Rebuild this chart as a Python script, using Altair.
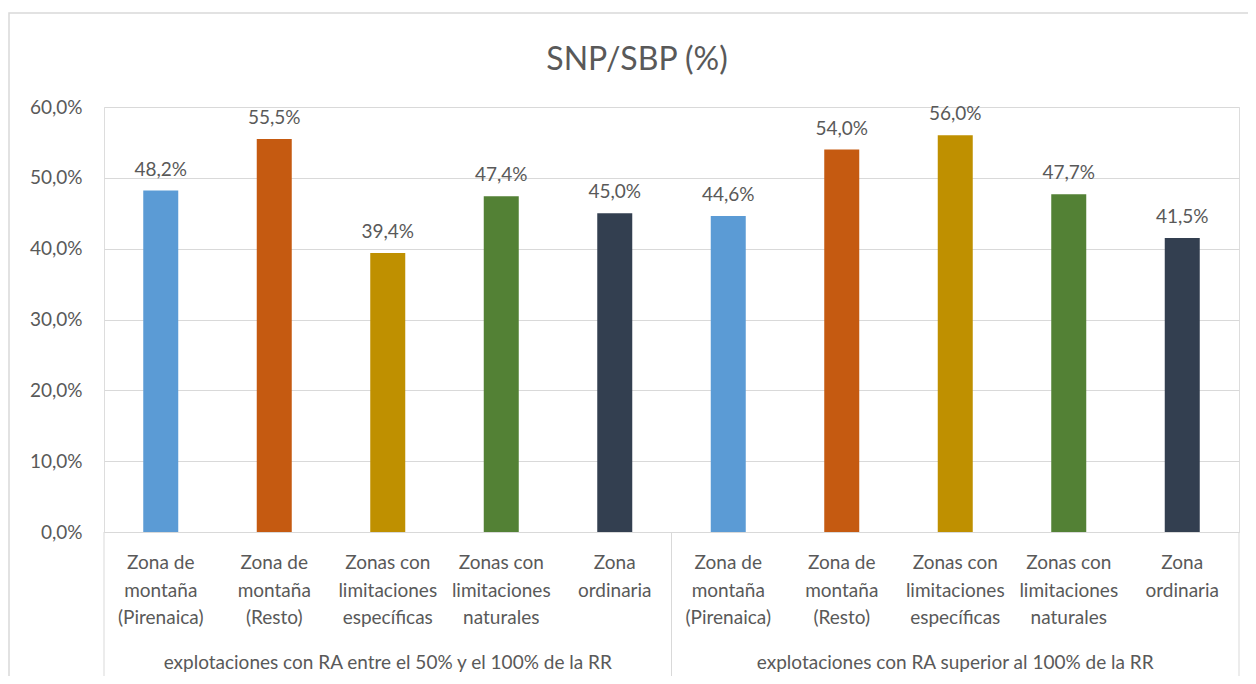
import altair as alt
import pandas as pd

title_text = "SNP/SBP (%)"
groups = [
    "explotaciones con RA entre el 50% y el 100% de la RR",
    "explotaciones con RA superior al 100% de la RR",
]
categories = [
    "Zona de\nmontaña\n(Pirenaica)",
    "Zona de\nmontaña\n(Resto)",
    "Zonas con\nlimitaciones\nespecíficas",
    "Zonas con\nlimitaciones\nnaturales",
    "Zona\nordinaria",
]
values_g1 = [0.482, 0.555, 0.394, 0.474, 0.450]
values_g2 = [0.446, 0.540, 0.560, 0.477, 0.415]
colors = ["#5B9BD5", "#C55A11", "#BF9000", "#538135", "#333F50"]

rows = []
for gi, (g, vals) in enumerate(zip(groups, [values_g1, values_g2])):
    for ci, (c, v) in enumerate(zip(categories, vals)):
        rows.append({"key": f"{gi}-{ci}", "group": g, "gi": gi, "ci": ci,
                     "category": c, "cat_id": f"c{ci}", "value": v})
df = pd.DataFrame(rows)
keys = list(df["key"])

FONT = "Lato"
TXT = "#595959"
GRID = "#D9D9D9"

xenc = alt.X("key:N", sort=keys,
             scale=alt.Scale(domain=keys, paddingInner=0, paddingOuter=0),
             axis=alt.Axis(labels=False, ticks=False, title=None, grid=False,
                           domainColor=GRID, domainWidth=1))

base = alt.Chart(df)

bars = base.mark_bar(width=35).encode(
    x=xenc,
    y=alt.Y("value:Q", scale=alt.Scale(domain=[0, 0.6]),
            axis=alt.Axis(format=".1%", values=[0, 0.1, 0.2, 0.3, 0.4, 0.5, 0.6],
                          grid=True, gridColor=GRID, domain=False, ticks=False,
                          labelPadding=22, labelFontSize=19, labelFont=FONT,
                          labelColor=TXT, title=None)),
    color=alt.Color("cat_id:N", scale=alt.Scale(domain=[f"c{i}" for i in range(5)], range=colors),
                    legend=None),
)

vlabels = base.mark_text(baseline="alphabetic", dy=-15, fontSize=19, font=FONT, color=TXT).encode(
    x=alt.X("key:N", sort=keys),
    y="value:Q",
    text=alt.Text("value:Q", format=".1%"),
)

catlabels = base.mark_text(lineBreak="\n", baseline="top", align="center", fontSize=19,
                           lineHeight=27.5, font=FONT, color=TXT).encode(
    x=alt.X("key:N", sort=keys),
    y=alt.value(447),
    text="category:N",
)

grplabels = base.transform_filter("datum.ci == 2").mark_text(
    baseline="middle", align="center", fontSize=19, font=FONT, color=TXT).encode(
    x=alt.X("key:N", sort=keys),
    y=alt.value(556),
    text="group:N",
)

sep_start = base.transform_filter("datum.ci == 0").mark_rule(color=GRID, strokeWidth=1).encode(
    x=alt.X("key:N", sort=keys, bandPosition=0),
    y=alt.value(425),
    y2=alt.value(620),
)
sep_end = base.transform_filter("datum.ci == 4 && datum.gi == 1").mark_rule(color=GRID, strokeWidth=1).encode(
    x=alt.X("key:N", sort=keys, bandPosition=1),
    y=alt.value(425),
    y2=alt.value(620),
)

border = alt.Chart(pd.DataFrame({"b": [0]})).mark_rect(
    fillOpacity=0, stroke=GRID, strokeWidth=1.5).encode(
    x=alt.value(-95), x2=alt.value(1180), y=alt.value(-94), y2=alt.value(700))

title = alt.Chart(pd.DataFrame({"t": [title_text]})).mark_text(
    fontSize=32, font=FONT, color=TXT, align="center", baseline="alphabetic").encode(
    x=alt.value(533), y=alt.value(-37), text="t:N")

chart = alt.layer(border, bars, vlabels, catlabels, grplabels, sep_start, sep_end, title).properties(
    width=1135, height=425,
    autosize=alt.AutoSizeParams(type="none"),
    padding={"left": 96, "top": 99, "right": 9, "bottom": 144},
).configure_view(strokeWidth=0).configure(
    locale={"number": {"decimal": ",", "thousands": ".", "grouping": [3],
                       "currency": ["", " €"]}}
)

chart.save("out.html", embed_options={"renderer": "svg", "actions": False})
